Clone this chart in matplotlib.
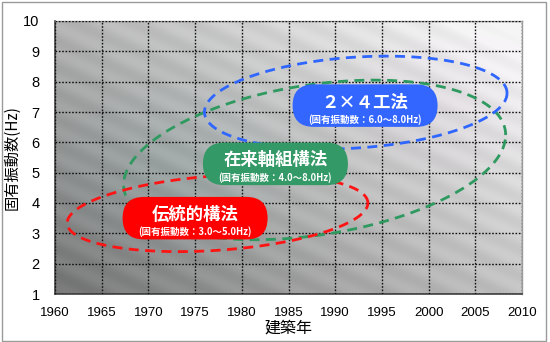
import numpy as np
import matplotlib
matplotlib.use("Agg")
import matplotlib.pyplot as plt
from matplotlib.patches import FancyBboxPatch, Rectangle
from matplotlib import transforms as mtransforms

plt.rcParams['font.family'] = ['Noto Sans CJK JP', 'DejaVu Sans']

# axis ticks
year_ticks = [1960, 1965, 1970, 1975, 1980, 1985, 1990, 1995, 2000, 2005, 2010]
freq_ticks = [1, 2, 3, 4, 5, 6, 7, 8, 9, 10]

# construction methods and their natural-frequency ranges
methods = ['伝統的構法', '在来軸組構法', '２×４工法']
freq_ranges = ['3.0～5.0', '4.0～8.0', '6.0～8.0']

# elliptical regions (building year vs. natural frequency)
region_center_year = [1977.4, 1987.8, 1992.2]
region_center_hz = [3.67, 5.42, 7.31]
region_half_years = [16.1, 20.45, 16.2]
region_half_hz = [1.23, 2.50, 1.50]
region_tilt_hz = [0.33, 0.82, 0.31]

# label anchor points
label_year = [1975.0, 1983.6, 1993.2]
label_hz = [3.50, 5.29, 7.21]

line_colors = ['#ff1414', '#2e9a60', '#2f66ff']
box_colors = ['#ff0000', '#339966', '#3366ff']

W, H, DPI = 550, 342, 100
fig = plt.figure(figsize=(W / DPI, H / DPI), dpi=DPI)
fig.patch.set_facecolor('white')
ax = fig.add_axes([55 / W, 1 - 294 / H, (522 - 55) / W, (294 - 21) / H])
ax.set_xlim(year_ticks[0], year_ticks[-1])
ax.set_ylim(freq_ticks[0], freq_ticks[-1])

# shaded diagonal background with soft banding
nx, ny = 467, 273
px = np.arange(nx)[None, :]
py = np.arange(ny)[:, None]
xn = px / nx
yn = py / ny
u = 0.30 * xn + 0.24 * yn
band = 0.022 * np.sin(2 * np.pi * (0.45 * px + py) / 26.0)
val = np.clip(0.46 + u + band, 0, 0.965)
rgb = np.dstack([val, val, val])
# faint cool tint toward the left-middle, warm toward the top right
tint = np.exp(-((xn - 0.25) ** 2 / 0.05 + (yn - 0.45) ** 2 / 0.08))
rgb[..., 0] -= 0.03 * tint
warm = np.exp(-((xn - 0.85) ** 2 / 0.05 + (yn - 0.7) ** 2 / 0.05))
rgb[..., 1] -= 0.015 * warm
rgb = np.clip(rgb, 0, 1)
ax.imshow(rgb, origin='lower', aspect='auto', zorder=0,
          extent=[year_ticks[0], year_ticks[-1], freq_ticks[0], freq_ticks[-1]],
          interpolation='bilinear')

ax.set_xticks(year_ticks)
ax.set_yticks(freq_ticks)
ax.set_xticklabels([str(y) for y in year_ticks], family=['Liberation Sans'], fontsize=9.5)
ax.set_yticklabels([str(f) for f in freq_ticks], family=['Liberation Sans'], fontsize=10.5)
ax.tick_params(length=0)
ax.tick_params(axis='x', pad=9)
ax.tick_params(axis='y', pad=11)
ax.grid(True, color='#111111', linestyle=(0, (1.2, 1.2)), linewidth=1.0, zorder=1)
ax.set_axisbelow(False)
for side in ['left', 'bottom']:
    ax.spines[side].set_color('#404040')
    ax.spines[side].set_linewidth(1.2)
for side in ['top', 'right']:
    ax.spines[side].set_color('#9a9a9a')
    ax.spines[side].set_linewidth(1.0)

# dashed elliptical regions
t = np.linspace(0, 2 * np.pi, 400)
for i in [1, 0, 2]:
    xs = region_center_year[i] + region_half_years[i] * np.cos(t)
    ys = region_center_hz[i] + region_tilt_hz[i] * np.cos(t) + region_half_hz[i] * np.sin(t)
    ax.plot(xs, ys, color=line_colors[i], lw=2.0, dashes=(3.6, 2.3), zorder=3,
            solid_capstyle='butt', dash_capstyle='butt')

# rounded labels
box_w, box_h = 1.45, 0.425
for i in range(3):
    trans = fig.dpi_scale_trans + mtransforms.ScaledTranslation(label_year[i], label_hz[i], ax.transData)
    pill = FancyBboxPatch((-box_w / 2, -box_h / 2), box_w, box_h,
                          boxstyle=f"round,pad=0,rounding_size={box_h / 2}",
                          transform=trans, facecolor=box_colors[i], edgecolor='none', zorder=5)
    ax.add_patch(pill)
    title_tr = mtransforms.offset_copy(ax.transData, fig, 0, 2.5, units='points')
    sub_tr = mtransforms.offset_copy(ax.transData, fig, 0, -9.8, units='points')
    ax.text(label_year[i], label_hz[i], methods[i], transform=title_tr, ha='center', va='center',
            color='white', fontsize=12.5, fontweight='bold', zorder=6)
    ax.text(label_year[i], label_hz[i], f'(固有振動数：{freq_ranges[i]}Hz)', transform=sub_tr,
            ha='center', va='center', color='white', fontsize=6.8, fontweight='bold', zorder=6)

fig.text(12 / W, 1 - 158 / H, '固有振動数(Hz)', rotation=90, ha='center', va='center', fontsize=11)
fig.text(288 / W, 1 - 328 / H, '建築年', ha='center', va='center', fontsize=11.5)

fig.add_artist(Rectangle((1.5 / W, 1.5 / H), 544 / W, 339 / H, transform=fig.transFigure,
                         fill=False, edgecolor='#9a9a9a', linewidth=1.0))

fig.savefig('out.png', dpi=DPI)
